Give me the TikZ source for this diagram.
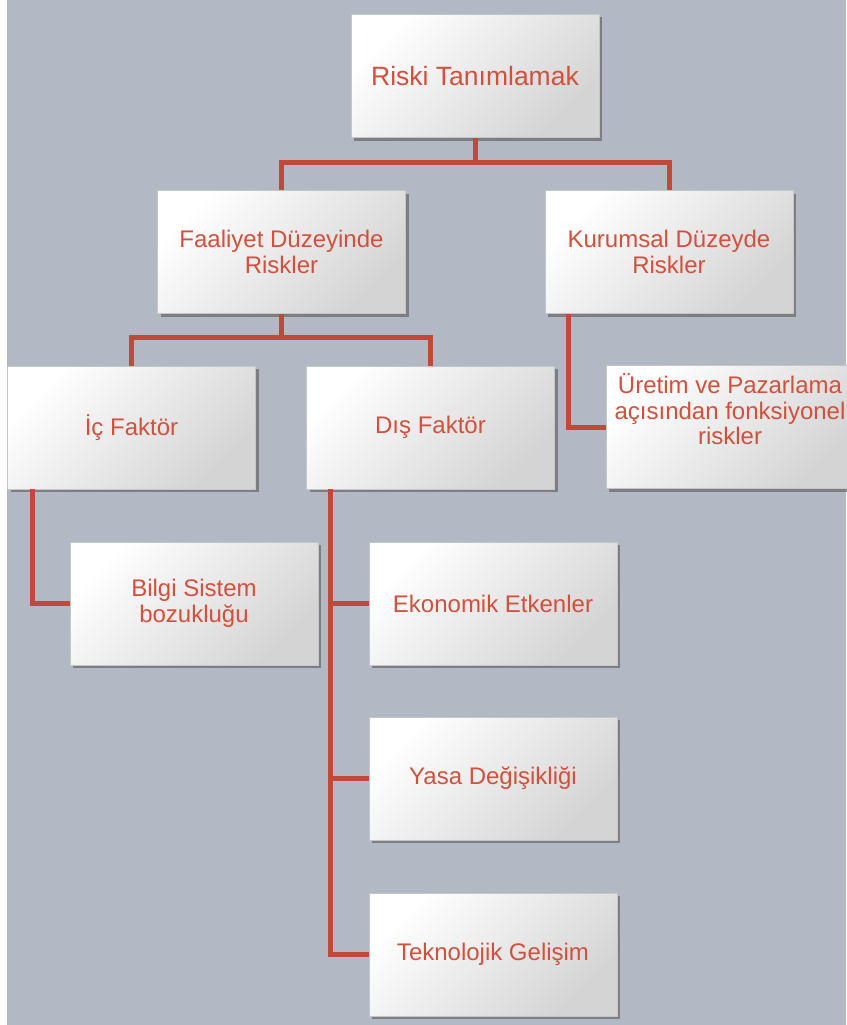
\documentclass[tikz,border=0pt]{standalone}
\usepackage{fontspec}
\setmainfont{Liberation Sans}
\usetikzlibrary{shadows,calc}
\definecolor{arka}{RGB}{178,184,196}
\definecolor{yazi}{RGB}{210,80,60}
\definecolor{hatrenk}{RGB}{192,74,55}

\begin{document}
\begin{tikzpicture}[x=1pt, y=-1pt, font=\fontsize{24}{25.5}\selectfont]
		\tikzset{kutu/.style={draw=gray!45, line width=0.6pt, top color=white, bottom color=black!17, shading angle=45, drop shadow={shadow xshift=3pt, shadow yshift=-3pt, fill=black!60, opacity=0.7}, minimum width=248pt, minimum height=123pt, inner sep=2pt, align=center, text=yazi}}
		\tikzset{hat/.style={draw=hatrenk, line width=5pt}}
		\useasboundingbox (0,0) rectangle (846,1025);
		\fill[white] (0,0) rectangle (846,1025);
		\fill[arka] (7,0) rectangle (846,1025);
		\node[kutu, font=\fontsize{26.5}{28}\selectfont] (root) at (475,76) {Riski Tanımlamak};
		\node[kutu] (faaliyet) at (281.5,252) {Faaliyet Düzeyinde\\Riskler};
		\node[kutu] (kurumsal) at (669,252) {Kurumsal Düzeyde\\Riskler};
		\node[kutu] (ic) at (131.5,427.5) {İç Faktör};
		\node[kutu] (dis) at (430.5,427.5) {Dış Faktör};
		\node[kutu] (uretim) at (730,427) {Üretim ve Pazarlama\\açısından fonksiyonel\\riskler\\[10.5pt]\mbox{}};
		\node[kutu] (bilgi) at (194,603.5) {Bilgi Sistem\\bozukluğu};
		\node[kutu] (ekonomik) at (493,603.5) {Ekonomik Etkenler};
		\node[kutu] (yasa) at (493,778.5) {Yasa Değişikliği};
		\node[kutu] (teknoloji) at (493,954.5) {Teknolojik Gelişim};
		\draw[hat] (root.south) -- ++(0,25) -| (faaliyet.north);
		\draw[hat] (root.south) -- ++(0,25) -| (kurumsal.north);
		\draw[hat] (faaliyet.south) -- ++(0,24) -| (ic.north);
		\draw[hat] (faaliyet.south) -- ++(0,24) -| (dis.north);
		\draw[hat] ([xshift=24pt]kurumsal.south west) |- (uretim.west);
		\draw[hat] ([xshift=25pt]ic.south west) |- (bilgi.west);
		\draw[hat] ([xshift=24pt]dis.south west) |- (ekonomik.west);
		\draw[hat] ([xshift=24pt]dis.south west) |- (yasa.west);
		\draw[hat] ([xshift=24pt]dis.south west) |- (teknoloji.west);
	\end{tikzpicture}
\end{document}
